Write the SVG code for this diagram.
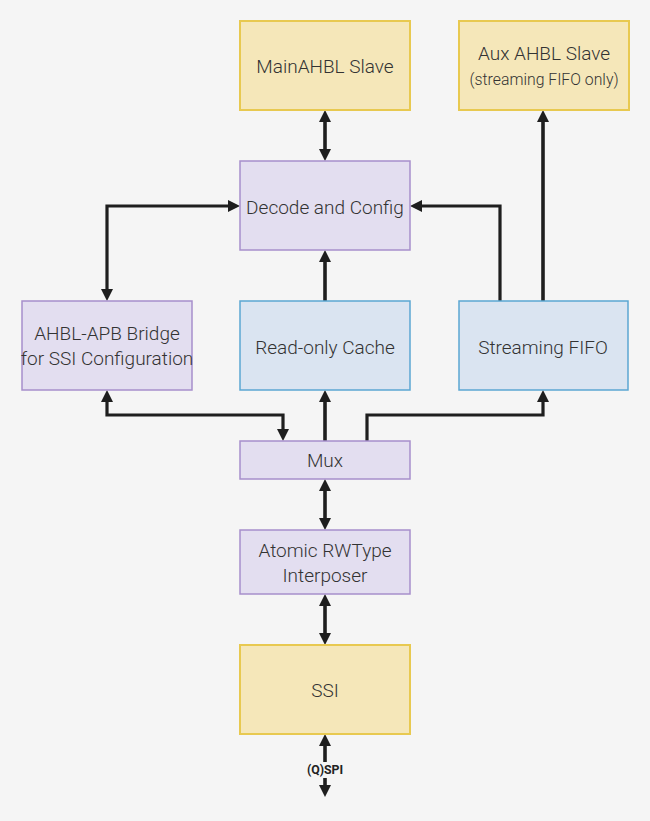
<svg xmlns="http://www.w3.org/2000/svg" width="650" height="821" viewBox="0 0 650 821">
<style>
.yel{fill:#f5e7b9;stroke:#e8c950;stroke-width:2}
.pur{fill:#e3def0;stroke:#a78fcb;stroke-width:1.5}
.blu{fill:#dae4f1;stroke:#5ba6d2;stroke-width:1.5}
text{font-family:Roboto,"Liberation Sans",sans-serif;font-weight:300;font-size:19px;fill:#333;text-anchor:middle;dominant-baseline:central}
.sm{font-size:15.8px}
.lbl{font-weight:700;font-size:12.3px;fill:#222}
.c{fill:none;stroke:#1e1e1e;stroke-width:3.2}
.t{stroke-width:3.6}
</style>
<defs>
<marker id="ah" viewBox="0 0 12 12" refX="4" refY="6" markerWidth="12" markerHeight="12" markerUnits="userSpaceOnUse" orient="auto-start-reverse">
<path d="M0,0 L12,6 L0,12 z" fill="#1e1e1e"/>
</marker>
</defs>
<rect width="650" height="821" fill="#f5f5f5"/>
<g id="connectors">
<path class="c t" d="M325,118 V153" marker-start="url(#ah)" marker-end="url(#ah)"/>
<path class="c t" d="M543,301 V118" marker-end="url(#ah)"/>
<path class="c" d="M500,301 V206 H418" marker-end="url(#ah)"/>
<path class="c" d="M232,206 H107 V293" marker-start="url(#ah)" marker-end="url(#ah)"/>
<path class="c t" d="M325,301 V258" marker-end="url(#ah)"/>
<path class="c t" d="M325,441 V398" marker-end="url(#ah)"/>
<path class="c" d="M107,398 V415 H283 V433" marker-start="url(#ah)" marker-end="url(#ah)"/>
<path class="c" d="M367,441 V415 H543 V398" marker-end="url(#ah)"/>
<path class="c t" d="M325,487 V522" marker-start="url(#ah)" marker-end="url(#ah)"/>
<path class="c t" d="M325,602 V637" marker-start="url(#ah)" marker-end="url(#ah)"/>
<path class="c t" d="M325,742 V789" marker-start="url(#ah)" marker-end="url(#ah)"/>
<rect x="303" y="762" width="44" height="16" fill="#f5f5f5"/>
<text class="lbl" x="325" y="770">(Q)SPI</text>
</g>
<g id="main-slave"><rect class="yel" x="240" y="21" width="170" height="89"/><text x="325" y="66">MainAHBL Slave</text></g>
<g id="aux-slave"><rect class="yel" x="459" y="21" width="170" height="89"/><text x="544" y="53">Aux AHBL Slave</text><text class="sm" x="544" y="79">(streaming FIFO only)</text></g>
<g id="decode"><rect class="pur" x="240" y="161" width="170" height="89"/><text x="325" y="207">Decode and Config</text></g>
<g id="bridge"><rect class="pur" x="22" y="301" width="170" height="89"/><text x="107" y="333">AHBL-APB Bridge</text><text x="107" y="358">for SSI Configuration</text></g>
<g id="cache"><rect class="blu" x="240" y="301" width="170" height="89"/><text x="325" y="347">Read-only Cache</text></g>
<g id="fifo"><rect class="blu" x="459" y="301" width="169" height="89"/><text x="543" y="347">Streaming FIFO</text></g>
<g id="mux"><rect class="pur" x="240" y="441" width="170" height="38"/><text x="325" y="460">Mux</text></g>
<g id="atomic"><rect class="pur" x="240" y="530" width="170" height="64"/><text x="325" y="550">Atomic RWType</text><text x="325" y="575">Interposer</text></g>
<g id="ssi"><rect class="yel" x="240" y="645" width="170" height="89"/><text x="325" y="690">SSI</text></g>
</svg>
